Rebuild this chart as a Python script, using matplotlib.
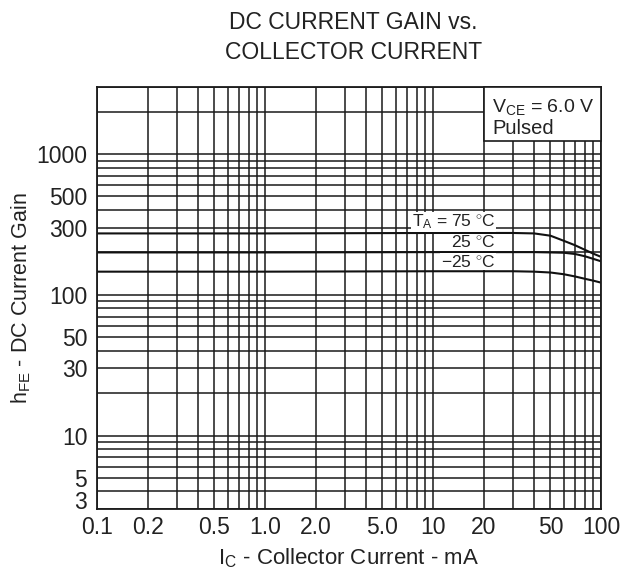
import matplotlib
matplotlib.use('Agg')
import matplotlib.pyplot as plt
from matplotlib.patches import Rectangle
from matplotlib.ticker import FixedLocator, NullFormatter

plt.rcParams['font.family'] = ['Liberation Sans', 'DejaVu Sans']
plt.rcParams['mathtext.fontset'] = 'custom'
plt.rcParams['mathtext.rm'] = 'Liberation Sans'
plt.rcParams['mathtext.it'] = 'Liberation Sans'

# collector current (mA) and DC current gain per ambient temperature
ic = [0.1, 1.0, 10, 30, 40, 50, 60, 70, 80, 90, 100]
hfe_75 = [273, 273, 275, 275, 273, 263, 242, 225, 209, 196, 186]
hfe_25 = [200, 200, 201, 201, 201, 200, 199, 195, 188, 180, 173]
hfe_m25 = [146, 146, 147, 147, 146, 144, 140, 135, 130, 126, 122]

temp_labels = [r'T$_{\rm A}$ = 75 $^{\circ}$C', r'25 $^{\circ}$C', r'$-$25 $^{\circ}$C']
label_y = [330, 236, 172]

x_ticks = [0.1, 0.2, 0.5, 1.0, 2.0, 5.0, 10, 20, 50, 100]
x_ticklabels = ['0.1', '0.2', '0.5', '1.0', '2.0', '5.0', '10', '20', '50', '100']
y_ticks = [3, 5, 10, 30, 50, 100, 300, 500, 1000]
y_ticklabels = ['3', '5', '10', '30', '50', '100', '300', '500', '1000']

fig = plt.figure(figsize=(6.36, 5.72), dpi=100)
ax = fig.add_axes([0.1525, 0.110, 0.7925, 0.738])

ax.set_xscale('log')
ax.set_yscale('log')
ax.set_xlim(0.1, 100)
ax.set_ylim(3, 3000)

# all 1..9 subdivisions are drawn as grid lines
x_minor = [m * d for d in (0.1, 1, 10) for m in range(1, 10)] + [100]
y_minor = [m * d for d in (1, 10, 100, 1000) for m in range(1, 10)]
ax.xaxis.set_major_locator(FixedLocator(x_ticks))
ax.xaxis.set_minor_locator(FixedLocator(x_minor))
ax.yaxis.set_major_locator(FixedLocator(y_ticks))
ax.yaxis.set_minor_locator(FixedLocator(y_minor))
ax.set_xticklabels(x_ticklabels)
ax.set_yticklabels(y_ticklabels)
ax.xaxis.set_minor_formatter(NullFormatter())
ax.yaxis.set_minor_formatter(NullFormatter())

ax.tick_params(which='both', length=0, labelsize=16.5, colors='#222222')
ax.tick_params(axis='x', pad=5)
ax.tick_params(axis='y', pad=7)
# bottom "3" label sits just above the frame corner
ax.get_yticklabels()[0].set_verticalalignment('baseline')

ax.set_axisbelow(True)
ax.grid(which='both', color='#1a1a1a', linewidth=1.1)
for sp in ax.spines.values():
    sp.set_linewidth(1.3)
    sp.set_color('#1a1a1a')

ax.plot(ic, hfe_75, color='#111111', lw=1.5, zorder=2)
ax.plot(ic, hfe_25, color='#111111', lw=1.5, zorder=2)
ax.plot(ic, hfe_m25, color='#111111', lw=1.5, zorder=2)

for lab, yy in zip(temp_labels, label_y):
    ax.text(23.5, yy, lab, ha='right', va='center', fontsize=12.5, color='#222222',
            zorder=4, bbox=dict(facecolor='white', edgecolor='none', pad=0.5))

# condition box in upper right corner
ax.add_patch(Rectangle((20, 1240), 80, 1760, facecolor='white', edgecolor='#1a1a1a',
                       linewidth=1.2, zorder=3, clip_on=False))
ax.text(22.5, 2150, r'V$_{\rm CE}$ = 6.0 V', ha='left', va='center', fontsize=14,
        color='#222222', zorder=4)
ax.text(22.5, 1520, 'Pulsed', ha='left', va='center', fontsize=14.5,
        color='#222222', zorder=4)

ax.set_xlabel(r'I$_{\rm C}$ - Collector Current - mA', fontsize=16, color='#222222',
              labelpad=5)
ax.set_ylabel(r'h$_{\rm FE}$ - DC Current Gain', fontsize=15.5, color='#222222',
              labelpad=2)
fig.text(0.556, 0.935, 'DC CURRENT GAIN vs.\nCOLLECTOR CURRENT', ha='center',
         va='center', fontsize=16.5, color='#222222', linespacing=1.4)

fig.savefig('out.png', dpi=100)
